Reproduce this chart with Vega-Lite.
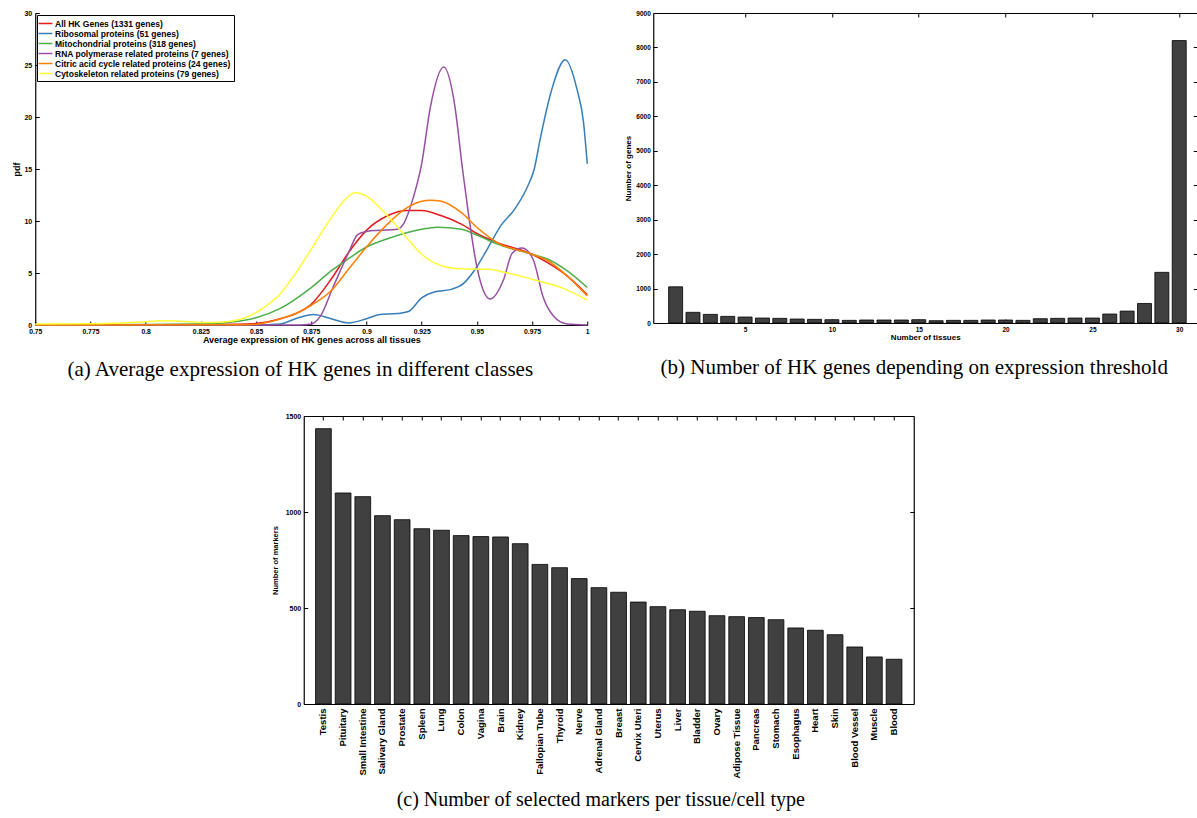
{
  "$schema": "https://vega.github.io/schema/vega-lite/v6.json",
  "background": "white",
  "padding": {"left": 12, "top": 9, "right": 0, "bottom": 0},
  "spacing": 32,
  "center": true,
  "datasets": {
    "kde": [
      {"s": "All HK Genes (1331 genes)", "x": 0.75, "y": 0.02},
      {"s": "All HK Genes (1331 genes)", "x": 0.8, "y": 0.03},
      {"s": "All HK Genes (1331 genes)", "x": 0.825, "y": 0.05},
      {"s": "All HK Genes (1331 genes)", "x": 0.84, "y": 0.08},
      {"s": "All HK Genes (1331 genes)", "x": 0.85, "y": 0.15},
      {"s": "All HK Genes (1331 genes)", "x": 0.861, "y": 0.6},
      {"s": "All HK Genes (1331 genes)", "x": 0.868, "y": 1.1},
      {"s": "All HK Genes (1331 genes)", "x": 0.875, "y": 2.0},
      {"s": "All HK Genes (1331 genes)", "x": 0.884, "y": 4.4},
      {"s": "All HK Genes (1331 genes)", "x": 0.892, "y": 7.0},
      {"s": "All HK Genes (1331 genes)", "x": 0.9, "y": 9.1},
      {"s": "All HK Genes (1331 genes)", "x": 0.9095, "y": 10.5},
      {"s": "All HK Genes (1331 genes)", "x": 0.9186, "y": 11.0},
      {"s": "All HK Genes (1331 genes)", "x": 0.925, "y": 11.0},
      {"s": "All HK Genes (1331 genes)", "x": 0.934, "y": 10.5},
      {"s": "All HK Genes (1331 genes)", "x": 0.943, "y": 9.7},
      {"s": "All HK Genes (1331 genes)", "x": 0.95, "y": 8.8},
      {"s": "All HK Genes (1331 genes)", "x": 0.959, "y": 7.95},
      {"s": "All HK Genes (1331 genes)", "x": 0.975, "y": 6.8},
      {"s": "All HK Genes (1331 genes)", "x": 0.982, "y": 6.0},
      {"s": "All HK Genes (1331 genes)", "x": 0.991, "y": 4.7},
      {"s": "All HK Genes (1331 genes)", "x": 1.0, "y": 2.9},

      {"s": "Ribosomal proteins (51 genes)", "x": 0.75, "y": 0.0},
      {"s": "Ribosomal proteins (51 genes)", "x": 0.85, "y": 0.0},
      {"s": "Ribosomal proteins (51 genes)", "x": 0.861, "y": 0.1},
      {"s": "Ribosomal proteins (51 genes)", "x": 0.8685, "y": 0.65},
      {"s": "Ribosomal proteins (51 genes)", "x": 0.876, "y": 1.0},
      {"s": "Ribosomal proteins (51 genes)", "x": 0.884, "y": 0.6},
      {"s": "Ribosomal proteins (51 genes)", "x": 0.892, "y": 0.2},
      {"s": "Ribosomal proteins (51 genes)", "x": 0.9, "y": 0.6},
      {"s": "Ribosomal proteins (51 genes)", "x": 0.906, "y": 1.0},
      {"s": "Ribosomal proteins (51 genes)", "x": 0.914, "y": 1.1},
      {"s": "Ribosomal proteins (51 genes)", "x": 0.919, "y": 1.3},
      {"s": "Ribosomal proteins (51 genes)", "x": 0.925, "y": 2.6},
      {"s": "Ribosomal proteins (51 genes)", "x": 0.931, "y": 3.2},
      {"s": "Ribosomal proteins (51 genes)", "x": 0.938, "y": 3.4},
      {"s": "Ribosomal proteins (51 genes)", "x": 0.944, "y": 4.0},
      {"s": "Ribosomal proteins (51 genes)", "x": 0.95, "y": 5.6},
      {"s": "Ribosomal proteins (51 genes)", "x": 0.955, "y": 7.4},
      {"s": "Ribosomal proteins (51 genes)", "x": 0.961, "y": 9.6},
      {"s": "Ribosomal proteins (51 genes)", "x": 0.967, "y": 11.1},
      {"s": "Ribosomal proteins (51 genes)", "x": 0.9727, "y": 13.2},
      {"s": "Ribosomal proteins (51 genes)", "x": 0.976, "y": 15.0},
      {"s": "Ribosomal proteins (51 genes)", "x": 0.9787, "y": 17.9},
      {"s": "Ribosomal proteins (51 genes)", "x": 0.984, "y": 22.7},
      {"s": "Ribosomal proteins (51 genes)", "x": 0.99, "y": 25.5},
      {"s": "Ribosomal proteins (51 genes)", "x": 0.9953, "y": 22.7},
      {"s": "Ribosomal proteins (51 genes)", "x": 0.9983, "y": 19.5},
      {"s": "Ribosomal proteins (51 genes)", "x": 1.0, "y": 15.5},

      {"s": "Mitochondrial proteins (318 genes)", "x": 0.75, "y": 0.02},
      {"s": "Mitochondrial proteins (318 genes)", "x": 0.8, "y": 0.05},
      {"s": "Mitochondrial proteins (318 genes)", "x": 0.825, "y": 0.1},
      {"s": "Mitochondrial proteins (318 genes)", "x": 0.84, "y": 0.3},
      {"s": "Mitochondrial proteins (318 genes)", "x": 0.85, "y": 0.7},
      {"s": "Mitochondrial proteins (318 genes)", "x": 0.861, "y": 1.6},
      {"s": "Mitochondrial proteins (318 genes)", "x": 0.875, "y": 3.6},
      {"s": "Mitochondrial proteins (318 genes)", "x": 0.884, "y": 5.2},
      {"s": "Mitochondrial proteins (318 genes)", "x": 0.892, "y": 6.4},
      {"s": "Mitochondrial proteins (318 genes)", "x": 0.9, "y": 7.5},
      {"s": "Mitochondrial proteins (318 genes)", "x": 0.9095, "y": 8.3},
      {"s": "Mitochondrial proteins (318 genes)", "x": 0.9186, "y": 8.9},
      {"s": "Mitochondrial proteins (318 genes)", "x": 0.925, "y": 9.2},
      {"s": "Mitochondrial proteins (318 genes)", "x": 0.932, "y": 9.4},
      {"s": "Mitochondrial proteins (318 genes)", "x": 0.943, "y": 9.2},
      {"s": "Mitochondrial proteins (318 genes)", "x": 0.95, "y": 8.65},
      {"s": "Mitochondrial proteins (318 genes)", "x": 0.959, "y": 7.8},
      {"s": "Mitochondrial proteins (318 genes)", "x": 0.975, "y": 6.8},
      {"s": "Mitochondrial proteins (318 genes)", "x": 0.982, "y": 6.35},
      {"s": "Mitochondrial proteins (318 genes)", "x": 0.991, "y": 5.2},
      {"s": "Mitochondrial proteins (318 genes)", "x": 1.0, "y": 3.6},

      {"s": "RNA polymerase related proteins (7 genes)", "x": 0.75, "y": 0.0},
      {"s": "RNA polymerase related proteins (7 genes)", "x": 0.87, "y": 0.0},
      {"s": "RNA polymerase related proteins (7 genes)", "x": 0.875, "y": 0.1},
      {"s": "RNA polymerase related proteins (7 genes)", "x": 0.879, "y": 0.8},
      {"s": "RNA polymerase related proteins (7 genes)", "x": 0.885, "y": 3.7},
      {"s": "RNA polymerase related proteins (7 genes)", "x": 0.892, "y": 7.0},
      {"s": "RNA polymerase related proteins (7 genes)", "x": 0.896, "y": 8.7},
      {"s": "RNA polymerase related proteins (7 genes)", "x": 0.9, "y": 9.0},
      {"s": "RNA polymerase related proteins (7 genes)", "x": 0.906, "y": 9.1},
      {"s": "RNA polymerase related proteins (7 genes)", "x": 0.914, "y": 9.2},
      {"s": "RNA polymerase related proteins (7 genes)", "x": 0.917, "y": 9.8},
      {"s": "RNA polymerase related proteins (7 genes)", "x": 0.921, "y": 12.1},
      {"s": "RNA polymerase related proteins (7 genes)", "x": 0.925, "y": 15.5},
      {"s": "RNA polymerase related proteins (7 genes)", "x": 0.929, "y": 21.0},
      {"s": "RNA polymerase related proteins (7 genes)", "x": 0.935, "y": 24.8},
      {"s": "RNA polymerase related proteins (7 genes)", "x": 0.94, "y": 21.1},
      {"s": "RNA polymerase related proteins (7 genes)", "x": 0.9435, "y": 15.0},
      {"s": "RNA polymerase related proteins (7 genes)", "x": 0.946, "y": 11.0},
      {"s": "RNA polymerase related proteins (7 genes)", "x": 0.95, "y": 5.6},
      {"s": "RNA polymerase related proteins (7 genes)", "x": 0.956, "y": 2.5},
      {"s": "RNA polymerase related proteins (7 genes)", "x": 0.962, "y": 4.3},
      {"s": "RNA polymerase related proteins (7 genes)", "x": 0.966, "y": 6.9},
      {"s": "RNA polymerase related proteins (7 genes)", "x": 0.9705, "y": 7.4},
      {"s": "RNA polymerase related proteins (7 genes)", "x": 0.9755, "y": 6.3},
      {"s": "RNA polymerase related proteins (7 genes)", "x": 0.98, "y": 2.7},
      {"s": "RNA polymerase related proteins (7 genes)", "x": 0.985, "y": 0.8},
      {"s": "RNA polymerase related proteins (7 genes)", "x": 0.991, "y": 0.1},
      {"s": "RNA polymerase related proteins (7 genes)", "x": 1.0, "y": 0.0},

      {"s": "Citric acid cycle related proteins (24 genes)", "x": 0.75, "y": 0.0},
      {"s": "Citric acid cycle related proteins (24 genes)", "x": 0.84, "y": 0.02},
      {"s": "Citric acid cycle related proteins (24 genes)", "x": 0.85, "y": 0.08},
      {"s": "Citric acid cycle related proteins (24 genes)", "x": 0.861, "y": 0.6},
      {"s": "Citric acid cycle related proteins (24 genes)", "x": 0.868, "y": 1.1},
      {"s": "Citric acid cycle related proteins (24 genes)", "x": 0.875, "y": 1.9},
      {"s": "Citric acid cycle related proteins (24 genes)", "x": 0.884, "y": 3.3},
      {"s": "Citric acid cycle related proteins (24 genes)", "x": 0.892, "y": 5.4},
      {"s": "Citric acid cycle related proteins (24 genes)", "x": 0.9, "y": 7.5},
      {"s": "Citric acid cycle related proteins (24 genes)", "x": 0.9095, "y": 9.7},
      {"s": "Citric acid cycle related proteins (24 genes)", "x": 0.9186, "y": 11.3},
      {"s": "Citric acid cycle related proteins (24 genes)", "x": 0.925, "y": 11.9},
      {"s": "Citric acid cycle related proteins (24 genes)", "x": 0.929, "y": 12.0},
      {"s": "Citric acid cycle related proteins (24 genes)", "x": 0.934, "y": 11.9},
      {"s": "Citric acid cycle related proteins (24 genes)", "x": 0.943, "y": 10.8},
      {"s": "Citric acid cycle related proteins (24 genes)", "x": 0.95, "y": 9.4},
      {"s": "Citric acid cycle related proteins (24 genes)", "x": 0.959, "y": 7.95},
      {"s": "Citric acid cycle related proteins (24 genes)", "x": 0.975, "y": 6.8},
      {"s": "Citric acid cycle related proteins (24 genes)", "x": 0.982, "y": 6.2},
      {"s": "Citric acid cycle related proteins (24 genes)", "x": 0.991, "y": 4.7},
      {"s": "Citric acid cycle related proteins (24 genes)", "x": 1.0, "y": 2.8},

      {"s": "Cytoskeleton related proteins (79 genes)", "x": 0.75, "y": 0.1},
      {"s": "Cytoskeleton related proteins (79 genes)", "x": 0.775, "y": 0.12},
      {"s": "Cytoskeleton related proteins (79 genes)", "x": 0.79, "y": 0.2},
      {"s": "Cytoskeleton related proteins (79 genes)", "x": 0.81, "y": 0.4},
      {"s": "Cytoskeleton related proteins (79 genes)", "x": 0.825, "y": 0.25},
      {"s": "Cytoskeleton related proteins (79 genes)", "x": 0.835, "y": 0.3},
      {"s": "Cytoskeleton related proteins (79 genes)", "x": 0.845, "y": 0.7},
      {"s": "Cytoskeleton related proteins (79 genes)", "x": 0.853, "y": 1.6},
      {"s": "Cytoskeleton related proteins (79 genes)", "x": 0.861, "y": 3.0},
      {"s": "Cytoskeleton related proteins (79 genes)", "x": 0.868, "y": 5.0},
      {"s": "Cytoskeleton related proteins (79 genes)", "x": 0.875, "y": 7.3},
      {"s": "Cytoskeleton related proteins (79 genes)", "x": 0.884, "y": 10.3},
      {"s": "Cytoskeleton related proteins (79 genes)", "x": 0.89, "y": 12.0},
      {"s": "Cytoskeleton related proteins (79 genes)", "x": 0.895, "y": 12.75},
      {"s": "Cytoskeleton related proteins (79 genes)", "x": 0.9, "y": 12.4},
      {"s": "Cytoskeleton related proteins (79 genes)", "x": 0.9095, "y": 10.5},
      {"s": "Cytoskeleton related proteins (79 genes)", "x": 0.9186, "y": 8.3},
      {"s": "Cytoskeleton related proteins (79 genes)", "x": 0.925, "y": 6.8},
      {"s": "Cytoskeleton related proteins (79 genes)", "x": 0.934, "y": 5.7},
      {"s": "Cytoskeleton related proteins (79 genes)", "x": 0.943, "y": 5.4},
      {"s": "Cytoskeleton related proteins (79 genes)", "x": 0.955, "y": 5.35},
      {"s": "Cytoskeleton related proteins (79 genes)", "x": 0.964, "y": 5.0},
      {"s": "Cytoskeleton related proteins (79 genes)", "x": 0.975, "y": 4.4},
      {"s": "Cytoskeleton related proteins (79 genes)", "x": 0.9895, "y": 3.5},
      {"s": "Cytoskeleton related proteins (79 genes)", "x": 1.0, "y": 2.4}
    ],
    "tissues": [
      {"n": 1, "genes": 1050}, {"n": 2, "genes": 310}, {"n": 3, "genes": 250},
      {"n": 4, "genes": 192}, {"n": 5, "genes": 173}, {"n": 6, "genes": 144},
      {"n": 7, "genes": 135}, {"n": 8, "genes": 115}, {"n": 9, "genes": 106},
      {"n": 10, "genes": 96}, {"n": 11, "genes": 77}, {"n": 12, "genes": 87},
      {"n": 13, "genes": 87}, {"n": 14, "genes": 87}, {"n": 15, "genes": 96},
      {"n": 16, "genes": 67}, {"n": 17, "genes": 77}, {"n": 18, "genes": 77},
      {"n": 19, "genes": 87}, {"n": 20, "genes": 87}, {"n": 21, "genes": 77},
      {"n": 22, "genes": 125}, {"n": 23, "genes": 135}, {"n": 24, "genes": 144},
      {"n": 25, "genes": 144}, {"n": 26, "genes": 260}, {"n": 27, "genes": 346},
      {"n": 28, "genes": 567}, {"n": 29, "genes": 1471}, {"n": 30, "genes": 8200}
    ],
    "markers": [
      {"tissue": "Testis", "markers": 1434},
      {"tissue": "Pituitary", "markers": 1099},
      {"tissue": "Small Intestine", "markers": 1080},
      {"tissue": "Salivary Gland", "markers": 981},
      {"tissue": "Prostate", "markers": 960},
      {"tissue": "Spleen", "markers": 913},
      {"tissue": "Lung", "markers": 905},
      {"tissue": "Colon", "markers": 877},
      {"tissue": "Vagina", "markers": 872},
      {"tissue": "Brain", "markers": 870},
      {"tissue": "Kidney", "markers": 835},
      {"tissue": "Fallopian Tube", "markers": 727},
      {"tissue": "Thyroid", "markers": 710},
      {"tissue": "Nerve", "markers": 653},
      {"tissue": "Adrenal Gland", "markers": 606},
      {"tissue": "Breast", "markers": 582},
      {"tissue": "Cervix Uteri", "markers": 531},
      {"tissue": "Uterus", "markers": 507},
      {"tissue": "Liver", "markers": 491},
      {"tissue": "Bladder", "markers": 483},
      {"tissue": "Ovary", "markers": 460},
      {"tissue": "Adipose Tissue", "markers": 455},
      {"tissue": "Pancreas", "markers": 450},
      {"tissue": "Stomach", "markers": 439},
      {"tissue": "Esophagus", "markers": 396},
      {"tissue": "Heart", "markers": 384},
      {"tissue": "Skin", "markers": 361},
      {"tissue": "Blood Vessel", "markers": 297},
      {"tissue": "Muscle", "markers": 245},
      {"tissue": "Blood", "markers": 233}
    ]
  },
  "vconcat": [
    {
      "spacing": 34,
      "hconcat": [
        {
          "width": 552,
          "height": 312,
          "title": {"text": "(a) Average expression of HK genes in different classes", "offset": 14, "dx": -11},
          "data": {"name": "kde"},
          "mark": {"type": "line", "interpolate": "monotone", "strokeWidth": 1.5},
          "encoding": {
            "x": {"field": "x", "type": "quantitative",
                  "scale": {"domain": [0.75, 1], "nice": false, "zero": false},
                  "axis": {"values": [0.75, 0.775, 0.8, 0.825, 0.85, 0.875, 0.9, 0.925, 0.95, 0.975, 1], "format": ".3~f", "labelFlush": false, "labelFontSize": 6.8, "labelPadding": 7.8, "title": "Average expression of HK genes across all tissues", "titleFontSize": 9, "titlePadding": 0}},
            "y": {"field": "y", "type": "quantitative",
                  "scale": {"domain": [0, 30], "nice": false},
                  "axis": {"values": [0, 5, 10, 15, 20, 25, 30], "labelFontSize": 7, "labelPadding": 7.5, "title": "pdf", "titleFontSize": 9, "titlePadding": 2}},
            "color": {"field": "s", "type": "nominal",
                      "scale": {"domain": ["All HK Genes (1331 genes)", "Ribosomal proteins (51 genes)", "Mitochondrial proteins (318 genes)", "RNA polymerase related proteins (7 genes)", "Citric acid cycle related proteins (24 genes)", "Cytoskeleton related proteins (79 genes)"],
                                "range": ["#e41a1c", "#377eb8", "#4daf4a", "#984ea3", "#ff7f00", "#ffff33"]},
                      "legend": {"title": null, "orient": "top-left", "offset": 2}}
          }
        },
        {
          "width": 544,
          "height": 310,
          "title": {"text": "(b) Number of HK genes depending on expression threshold", "offset": 15, "dx": -11},
          "data": {"name": "tissues"},
          "layer": [
            {
              "mark": {"type": "bar", "orient": "vertical", "size": 14, "fill": "#404040", "stroke": "black", "strokeWidth": 0.8},
              "encoding": {
                "x": {"field": "n", "type": "quantitative",
                      "scale": {"domain": [0, 30.75], "nice": false, "zero": false},
                      "axis": {"values": [5, 10, 15, 20, 25, 30], "labelFlush": false, "labelFontSize": 6.5, "title": "Number of tissues", "titlePadding": 1}},
                "y": {"field": "genes", "type": "quantitative",
                      "scale": {"domain": [0, 9000], "nice": false},
                      "axis": {"values": [0, 1000, 2000, 3000, 4000, 5000, 6000, 7000, 8000, 9000], "format": "d", "labelFontSize": 6.5, "title": "Number of genes", "titlePadding": 3}}
              }
            },
            {
              "mark": {"type": "bar", "orient": "vertical", "size": 14, "opacity": 0},
              "encoding": {
                "x": {"field": "n", "type": "quantitative", "axis": {"orient": "top", "values": [5, 10, 15, 20, 25, 30], "labels": false, "title": null}},
                "y": {"field": "genes", "type": "quantitative", "axis": {"orient": "right", "values": [0, 1000, 2000, 3000, 4000, 5000, 6000, 7000, 8000, 9000], "labels": false, "title": null}}
              }
            }
          ],
          "resolve": {"axis": {"x": "independent", "y": "independent"}}
        }
      ]
    },
    {
      "width": 610,
      "height": 288,
      "title": {"text": "(c) Number of selected markers per tissue/cell type", "offset": 12, "fontSize": 20, "dx": -8},
      "data": {"name": "markers"},
      "layer": [
        {
          "mark": {"type": "bar", "fill": "#404040", "stroke": "black", "strokeWidth": 0.8},
          "encoding": {
            "x": {"field": "tissue", "type": "nominal", "sort": null,
                  "scale": {"paddingInner": 0.2, "paddingOuter": 0.6},
                  "axis": {"title": null, "labelAngle": -90, "labelFontSize": 9.5, "labelPadding": 8}},
            "y": {"field": "markers", "type": "quantitative",
                  "scale": {"domain": [0, 1500], "nice": false},
                  "axis": {"values": [0, 500, 1000, 1500], "format": "d", "title": "Number of markers", "titleFontSize": 7.5, "titlePadding": 6}}
          }
        },
        {
          "mark": {"type": "bar", "opacity": 0},
          "encoding": {
            "x": {"field": "tissue", "type": "nominal", "sort": null, "axis": {"orient": "top", "labels": false, "title": null}},
            "y": {"field": "markers", "type": "quantitative", "axis": {"orient": "right", "values": [0, 500, 1000, 1500], "labels": false, "title": ".", "titleOpacity": 0, "titleFontSize": 8, "titlePadding": 7}}
          }
        }
      ],
      "resolve": {"axis": {"x": "independent", "y": "independent"}}
    }
  ],
  "config": {
    "view": {"stroke": null},
    "font": "Liberation Sans",
    "axis": {
      "labelFont": "Liberation Sans", "labelFontWeight": "bold", "labelFontSize": 7, "labelColor": "black",
      "titleFont": "Liberation Sans", "titleFontWeight": "bold", "titleFontSize": 8, "titleColor": "black",
      "domainColor": "black", "domainWidth": 1.2, "tickColor": "black", "tickWidth": 1,
      "tickSize": -4, "labelPadding": 7, "grid": false
    },
    "legend": {
      "labelFont": "Liberation Sans", "labelFontWeight": "bold", "labelFontSize": 8.5, "labelColor": "black",
      "labelLimit": 400, "labelOffset": 4, "symbolType": "M-1.5,0H1.5", "symbolStrokeWidth": 1.5, "symbolSize": 85,
      "rowPadding": 0, "padding": 3, "strokeColor": "black", "fillColor": "white"
    },
    "title": {"font": "Liberation Serif", "fontSize": 21, "fontWeight": "normal", "color": "black", "orient": "bottom", "anchor": "middle"}
  }
}
